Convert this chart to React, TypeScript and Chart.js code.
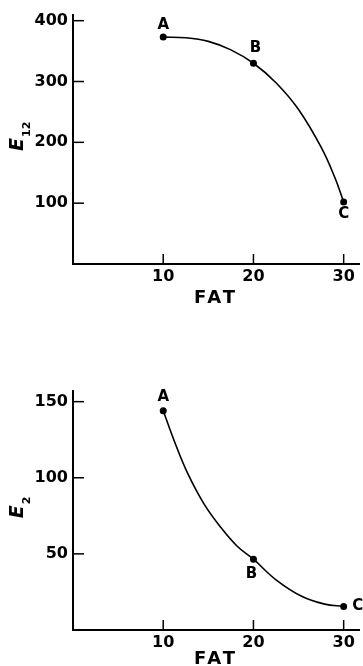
import React, { useEffect, useRef } from 'react';
import { Chart, registerables } from 'chart.js';

Chart.register(...registerables);

// ---- data ----
const fat = [10, 20, 30];
const pointLabels = ['A', 'B', 'C'];
const e12Values = [373, 330, 102];
const e2Values = [144, 46.5, 15.5];
// fitted curves
const e12CurveX = [10, 12.5, 15, 17.5, 20, 22.5, 25, 27.5, 29, 30];
const e12CurveY = [373, 372, 366, 352, 330, 298, 254, 192, 143, 102];
const e2CurveX = [10, 11.3, 12.7, 14.5, 16.3, 18.2, 20, 22.5, 25.4, 27.9, 30];
const e2CurveY = [144, 123, 103, 83, 68, 55, 46.5, 33, 22, 17, 15.5];
const fatTicks = [10, 20, 30];
const e12Ticks = [100, 200, 300, 400];
const e2Ticks = [50, 100, 150];
const xTitle = 'FAT';

const FONT = '"DejaVu Sans", "Liberation Sans", Arial, sans-serif';

type Panel = {
  values: number[];
  curveX: number[];
  curveY: number[];
  yTicks: number[];
  yMax: number;
  titleSub: string;
  height: number;
  padTop: number;
  xAxisHeight: number;
  labelOffsets: [number, number][];
  xTitleOffset: number;
};

const panels: Panel[] = [
  {
    values: e12Values,
    curveX: e12CurveX,
    curveY: e12CurveY,
    yTicks: e12Ticks,
    yMax: 410,
    titleSub: '12',
    height: 330,
    padTop: 12,
    xAxisHeight: 66,
    labelOffsets: [[0, -12], [2, -15], [0, 12]],
    xTitleOffset: 34,
  },
  {
    values: e2Values,
    curveX: e2CurveX,
    curveY: e2CurveY,
    yTicks: e2Ticks,
    yMax: 157,
    titleSub: '2',
    height: 336,
    padTop: 61,
    xAxisHeight: 36,
    labelOffsets: [[0, -14], [-2, 15], [14, 0]],
    xTitleOffset: 29,
  },
];

function makeDecor(p: Panel) {
  return {
    id: 'decor' + p.titleSub,
    afterDraw(chart: any) {
      const { ctx, chartArea } = chart;
      const xs = chart.scales.x;
      const ys = chart.scales.y;
      ctx.save();
      ctx.strokeStyle = '#000';
      ctx.fillStyle = '#000';
      ctx.lineWidth = 1.5;
      // inward tick marks
      ys.ticks.forEach((t: any) => {
        const py = ys.getPixelForValue(t.value);
        ctx.beginPath();
        ctx.moveTo(chartArea.left, py);
        ctx.lineTo(chartArea.left + 11, py);
        ctx.stroke();
      });
      xs.ticks.forEach((t: any) => {
        const px = xs.getPixelForValue(t.value);
        ctx.beginPath();
        ctx.moveTo(px, chartArea.bottom);
        ctx.lineTo(px, chartArea.bottom - 10);
        ctx.stroke();
      });
      // point labels
      const meta = chart.getDatasetMeta(1);
      ctx.font = `bold 15px ${FONT}`;
      ctx.textAlign = 'center';
      ctx.textBaseline = 'middle';
      meta.data.forEach((el: any, i: number) => {
        const [dx, dy] = p.labelOffsets[i];
        ctx.fillText(pointLabels[i], el.x + dx, el.y + dy);
      });
      // x title
      ctx.font = `bold 18px ${FONT}`;
      (ctx as any).letterSpacing = '3px';
      ctx.fillText(xTitle, (chartArea.left + chartArea.right) / 2, chartArea.bottom + p.xTitleOffset);
      (ctx as any).letterSpacing = '0px';
      // y title E_sub
      const cx = 16;
      const cy = (chartArea.top + chartArea.bottom) / 2 - 3;
      ctx.translate(cx, cy);
      ctx.rotate(-Math.PI / 2);
      ctx.textAlign = 'left';
      ctx.textBaseline = 'alphabetic';
      const fE = `italic bold 19px ${FONT}`;
      const fS = `bold 11px ${FONT}`;
      ctx.font = fE;
      const wE = ctx.measureText('E').width;
      ctx.font = fS;
      const wS = ctx.measureText(p.titleSub).width;
      const total = wE + 1 + wS;
      ctx.font = fE;
      ctx.fillText('E', -total / 2, 7);
      ctx.font = fS;
      ctx.fillText(p.titleSub, -total / 2 + wE + 1, 14);
      ctx.restore();
    },
  };
}

function PanelChart({ p }: { p: Panel }) {
  const ref = useRef<HTMLCanvasElement>(null);
  useEffect(() => {
    if (!ref.current) return;
    const chart = new Chart(ref.current, {
      type: 'line',
      data: {
        datasets: [
          {
            data: p.curveX.map((x, i) => ({ x, y: p.curveY[i] })),
            borderColor: '#000',
            borderWidth: 1.6,
            pointRadius: 0,
            tension: 0.4,
            fill: false,
          },
          {
            data: fat.map((x, i) => ({ x, y: p.values[i] })),
            showLine: false,
            backgroundColor: '#000',
            pointBackgroundColor: '#000',
            pointBorderWidth: 0,
            pointRadius: 3.5,
          },
        ],
      },
      options: {
        responsive: false,
        animation: false,
        devicePixelRatio: 1,
        layout: { padding: { top: p.padTop, left: 0, right: 0, bottom: 0 } },
        plugins: { legend: { display: false }, tooltip: { enabled: false } },
        scales: {
          x: {
            type: 'linear',
            min: 0,
            max: 31.7,
            grid: { display: false, drawTicks: false },
            border: { display: true, color: '#000', width: 2 },
            afterBuildTicks: (s: any) => {
              s.ticks = fatTicks.map((v) => ({ value: v }));
            },
            afterFit: (s: any) => {
              s.height = p.xAxisHeight;
            },
            ticks: {
              color: '#000',
              padding: 3,
              maxRotation: 0,
              font: { family: FONT, weight: 'bold', size: 16 },
            },
          },
          y: {
            type: 'linear',
            min: 0,
            max: p.yMax,
            grid: { display: false, drawTicks: false },
            border: { display: true, color: '#000', width: 2 },
            afterBuildTicks: (s: any) => {
              s.ticks = p.yTicks.map((v) => ({ value: v }));
            },
            afterFit: (s: any) => {
              s.width = 73;
            },
            ticks: {
              color: '#000',
              padding: 5,
              font: { family: FONT, weight: 'bold', size: 16 },
            },
          },
        },
      },
      plugins: [makeDecor(p)],
    } as any);
    return () => chart.destroy();
  }, [p]);
  return <canvas ref={ref} width={363} height={p.height} style={{ display: 'block' }} />;
}

export default function App() {
  return (
    <div style={{ position: 'fixed', left: 0, top: 0, width: 363, height: 666, background: '#fff' }}>
      {panels.map((p, i) => (
        <PanelChart key={i} p={p} />
      ))}
    </div>
  );
}
